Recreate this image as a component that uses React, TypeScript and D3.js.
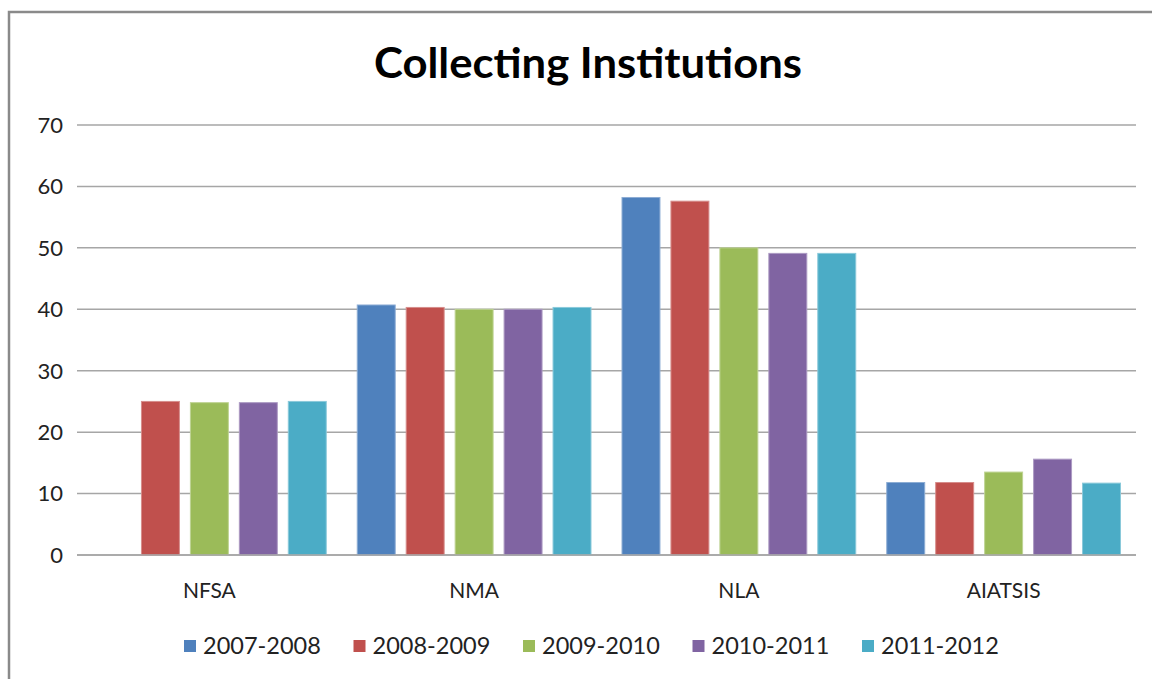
import { useRef, useEffect } from "react";
import * as d3 from "d3";

const categories = ["NFSA", "NMA", "NLA", "AIATSIS"];
const seriesNames = ["2007-2008", "2008-2009", "2009-2010", "2010-2011", "2011-2012"];
const colors = ["#4F81BD", "#C0504D", "#9BBB59", "#8064A2", "#4BACC6"];
// values per series, in category order (NFSA has no 2007-2008 value)
const values: (number | null)[][] = [
  [null, 40.7, 58.2, 11.8],
  [25.0, 40.3, 57.6, 11.8],
  [24.8, 40.0, 50.0, 13.5],
  [24.8, 40.0, 49.1, 15.6],
  [25.0, 40.3, 49.1, 11.7],
];
const yTicks = [0, 10, 20, 30, 40, 50, 60, 70];

const width = 1152;
const height = 679;
const font = "Lato, 'Open Sans', sans-serif";

export default function App() {
  const ref = useRef<SVGSVGElement>(null);

  useEffect(() => {
    if (!ref.current) return;
    const svg = d3.select(ref.current);
    svg.selectAll("*").remove();

    const plot = { left: 77, right: 1136, top: 125, bottom: 555 };

    // Outer frame (only left and top edges fall inside the picture)
    svg
      .append("rect")
      .attr("x", 9)
      .attr("y", 12)
      .attr("width", width + 20)
      .attr("height", height + 20)
      .attr("fill", "#fff")
      .attr("stroke", "#8a8a8a")
      .attr("stroke-width", 2.5);

    // Title
    svg
      .append("text")
      .attr("x", 588)
      .attr("y", 78)
      .attr("text-anchor", "middle")
      .attr("font-family", font)
      .attr("font-weight", "bold")
      .attr("font-size", 42)
      .attr("textLength", 428)
      .attr("lengthAdjust", "spacingAndGlyphs")
      .attr("fill", "#000")
      .text("Collecting Institutions");

    // Scales
    const x0 = d3
      .scaleBand<string>()
      .domain(categories)
      .range([plot.left, plot.right])
      .paddingInner(0)
      .paddingOuter(0);
    const x1 = d3
      .scaleBand<string>()
      .domain(seriesNames)
      .range([15.5, x0.bandwidth() - 15.5])
      .paddingInner(11 / 49)
      .paddingOuter(0);
    const y = d3.scaleLinear().domain([0, 70]).range([plot.bottom, plot.top]);

    // Gridlines and tick labels
    const grid = svg.append("g");
    yTicks.forEach((t) => {
      grid
        .append("line")
        .attr("x1", plot.left)
        .attr("x2", plot.right)
        .attr("y1", y(t))
        .attr("y2", y(t))
        .attr("stroke", "#a6a6a6")
        .attr("stroke-width", 1.5);
      grid
        .append("text")
        .attr("x", 63)
        .attr("y", y(t))
        .attr("dy", "0.36em")
        .attr("text-anchor", "end")
        .attr("font-family", font)
        .attr("font-size", 22)
        .attr("fill", "#222")
        .text(t);
    });

    // Bars
    seriesNames.forEach((name, i) => {
      svg
        .append("g")
        .selectAll("rect")
        .data(categories.map((c, j) => ({ c, v: values[i][j] })).filter((d) => d.v !== null))
        .join("rect")
        .attr("x", (d) => (x0(d.c) as number) + (x1(name) as number))
        .attr("y", (d) => y(d.v as number))
        .attr("width", x1.bandwidth())
        .attr("height", (d) => plot.bottom - y(d.v as number))
        .attr("fill", colors[i])
        .attr("stroke", d3.interpolateRgb(colors[i], "#ffffff")(0.35))
        .attr("stroke-width", 1);
    });

    // Baseline over bars
    svg
      .append("line")
      .attr("x1", plot.left)
      .attr("x2", plot.right)
      .attr("y1", plot.bottom)
      .attr("y2", plot.bottom)
      .attr("stroke", "#a6a6a6")
      .attr("stroke-width", 1.5);

    // Category labels
    categories.forEach((c) => {
      svg
        .append("text")
        .attr("x", (x0(c) as number) + x0.bandwidth() / 2)
        .attr("y", 598)
        .attr("text-anchor", "middle")
        .attr("font-family", font)
        .attr("font-size", 21)
        .attr("fill", "#222")
        .text(c);
    });

    // Legend
    const legend = svg.append("g").attr("transform", "translate(184, 646)");
    seriesNames.forEach((name, i) => {
      const g = legend.append("g").attr("transform", `translate(${i * 169.5}, 0)`);
      g.append("rect")
        .attr("x", 0)
        .attr("y", -6)
        .attr("width", 12)
        .attr("height", 12)
        .attr("fill", colors[i]);
      g.append("text")
        .attr("x", 19)
        .attr("y", 0)
        .attr("dy", "0.36em")
        .attr("font-family", font)
        .attr("font-size", 23.5)
        .attr("fill", "#222")
        .text(name);
    });
  }, []);

  return (
    <svg
      ref={ref}
      width={width}
      height={height}
      style={{ position: "absolute", left: 0, top: 0, background: "#fff" }}
    />
  );
}
